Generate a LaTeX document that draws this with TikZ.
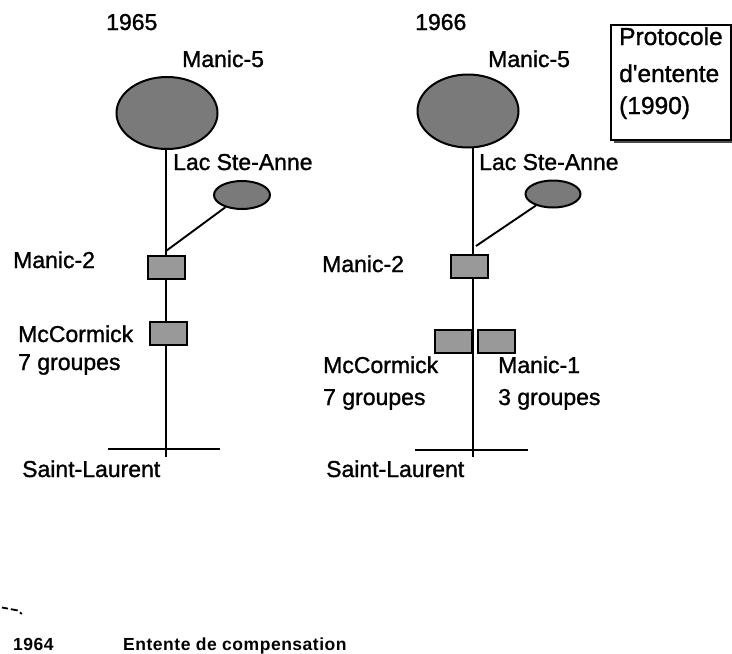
\documentclass[tikz,border=0pt]{standalone}
\usepackage{fontspec}
\setmainfont{Liberation Sans}
\newfontfamily\labfont[FakeBold=1.2]{Liberation Sans}
\newfontfamily\footfont[LetterSpace=3]{Liberation Sans Bold}
\usetikzlibrary{shapes.geometric}
\tikzset{
  lab/.style={anchor=base west, inner sep=0pt, font=\labfont\fontsize{23}{27}\selectfont},
  boxlab/.style={anchor=base west, inner sep=0pt, font=\labfont\fontsize{24.5}{28}\selectfont},
  foot/.style={anchor=base west, inner sep=0pt, font=\footfont\fontsize{17.5}{20}\selectfont},
  lake/.style={ellipse, draw, line width=2pt, fill=black!52, inner sep=0pt},
  plant/.style={rectangle, draw, line width=2pt, fill=black!40, inner sep=0pt, minimum width=37pt, minimum height=23pt},
  river/.style={line width=1.9pt},
}
\begin{document}
\begin{tikzpicture}[x=1pt,y=-1pt]
\useasboundingbox (0,0) rectangle (732,654);

% ---------- 1965 ----------
\node[lab] (y65) at (106,30) {1965};
\node[lab] (L1m5lab) at (182,67) {Manic-5};
\coordinate (L1bot) at (166,457);
\coordinate (L1j) at (166,251);
\draw[river] (L1bot) -- (166,150) coordinate (L1top);
\node[lake, minimum width=101pt, minimum height=72pt] (L1big) at (167,113) {};
\node[lab] (L1lsa) at (173,170) {Lac Ste-Anne};
\node[lake, minimum width=56pt, minimum height=28pt] (L1small) at (242,195) {};
\draw[river] (L1small) -- (L1j);
\node[plant] (L1m2) at (166,267) {};
\node[lab] (L1m2lab) at (13,268) {Manic-2};
\node[plant] (L1mc) at (168,333) {};
\node[lab] (L1mclab) at (18,342) {McCormick};
\node[lab] (L1g7) at (18,370) {7 groupes};
\coordinate (L1sa) at (108,449);
\coordinate (L1sb) at (220,449);
\draw[river] (L1sa) -- (L1sb);
\node[lab] (L1sl) at (22,477) {Saint-Laurent};

% ---------- 1966 ----------
\node[lab] (y66) at (415,30) {1966};
\node[lab] (R1m5lab) at (488,67) {Manic-5};
\coordinate (R1bot) at (473,457);
\coordinate (R1j) at (476,246);
\draw[river] (R1bot) -- (473,148) coordinate (R1top);
\node[lake, minimum width=101pt, minimum height=73pt] (R1big) at (468,111) {};
\node[lab] (R1lsa) at (479,170) {Lac Ste-Anne};
\node[lake, minimum width=55pt, minimum height=27pt] (R1small) at (553,194) {};
\draw[river] (R1small) -- (R1j);
\node[plant] (R1m2) at (469,266) {};
\node[lab] (R1m2lab) at (322,272) {Manic-2};
\node[plant] (R1mc) at (453,341) {};
\node[plant] (R1m1) at (496,341) {};
\draw[river] (473,329) -- (473,353);
\node[lab] (R1mclab) at (323,373) {McCormick};
\node[lab] (R1m1lab) at (498,373) {Manic-1};
\node[lab] (R1g7) at (323,405) {7 groupes};
\node[lab] (R1g3) at (498,405) {3 groupes};
\coordinate (R1sa) at (415,450);
\coordinate (R1sb) at (528,450);
\draw[river] (R1sa) -- (R1sb);
\node[lab] (R1sl) at (326,477) {Saint-Laurent};

% ---------- Protocole box ----------
\fill[black!70] (614,138) rectangle (733,143);
\draw[line width=1.6pt, fill=white] (611,25) rectangle (731,140);
\node[boxlab] (p1) at (619,45) {Protocole};
\node[boxlab] (p2) at (619,82) {d'entente};
\node[boxlab] (p3) at (619,114) {(1990)};

% ---------- legend ----------
\coordinate (da) at (2,607.5);
\coordinate (dm) at (18,610.5);
\coordinate (db) at (24,616);
\draw[line width=1.8pt, dash pattern=on 6pt off 3pt on 7pt off 3pt on 2.5pt off 10pt] (da) -- (dm) -- (db);
\node[foot] (y64) at (13,650) {1964};
\node[foot] (ent) at (123,650) {Entente de compensation};
\end{tikzpicture}
\end{document}
